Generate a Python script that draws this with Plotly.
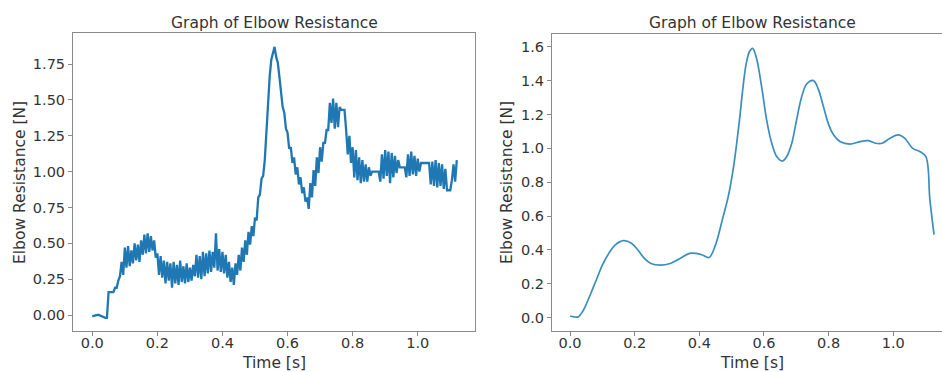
import numpy as np
import plotly.graph_objects as go

# Raw elbow resistance samples [N], recorded every 5 ms
SAMPLE_DT = 0.005
raw_resistance = [
    -0.01, -0.005, -0.005, 0.0, 0.0, -0.005, -0.01, -0.02, -0.02, -0.02,
    0.16, 0.16, 0.16, 0.16, 0.19, 0.19, 0.24, 0.27, 0.37, 0.28,
    0.47, 0.33, 0.48, 0.34, 0.45, 0.36, 0.50, 0.38, 0.49, 0.37,
    0.52, 0.42, 0.56, 0.43, 0.57, 0.44, 0.55, 0.45, 0.52, 0.40,
    0.43, 0.28, 0.41, 0.26, 0.38, 0.22, 0.37, 0.24, 0.36, 0.19,
    0.37, 0.22, 0.35, 0.21, 0.38, 0.23, 0.34, 0.22, 0.36, 0.23,
    0.33, 0.24, 0.35, 0.27, 0.42, 0.26, 0.41, 0.25, 0.44, 0.27,
    0.43, 0.29, 0.45, 0.30, 0.44, 0.33, 0.57, 0.31, 0.46, 0.30,
    0.44, 0.29, 0.42, 0.26, 0.37, 0.23, 0.33, 0.21, 0.36, 0.28,
    0.42, 0.31, 0.47, 0.37, 0.52, 0.42, 0.58, 0.49, 0.62, 0.55,
    0.68, 0.66, 0.82, 0.84, 0.95, 0.97, 1.08, 1.30, 1.52, 1.66,
    1.78, 1.82, 1.87, 1.80, 1.76, 1.66, 1.57, 1.45, 1.41, 1.30,
    1.27, 1.16, 1.17, 1.06, 1.10, 0.98, 1.03, 0.91, 0.96, 0.85,
    0.89, 0.79, 0.82, 0.74, 0.92, 0.82, 1.01, 0.90, 1.10, 0.99,
    1.17, 1.07, 1.20, 1.20, 1.29, 1.29, 1.48, 1.34, 1.51, 1.30,
    1.48, 1.31, 1.45, 1.43, 1.43, 1.43, 1.29, 1.12, 1.25, 1.06,
    1.17, 0.96, 1.15, 0.94, 1.10, 0.92, 1.08, 0.93, 1.05, 0.93,
    1.03, 0.97, 1.00, 1.00, 1.00, 1.00, 1.00, 0.93, 1.12, 0.95,
    1.15, 0.97, 1.14, 0.92, 1.13, 0.96, 1.11, 0.99, 1.08, 1.03,
    1.03, 1.03, 1.03, 0.96, 1.12, 0.97, 1.14, 0.98, 1.11, 0.97,
    1.09, 1.00, 1.06, 1.06, 1.06, 1.06, 1.06, 1.06, 0.91, 1.07,
    0.90, 1.08, 0.89, 1.06, 0.90, 1.05, 0.88, 1.02, 0.87, 0.87,
    0.87, 0.94, 1.05, 0.93, 1.08,
]
raw_time = np.arange(len(raw_resistance)) * SAMPLE_DT

# Filtered elbow resistance [N]
smooth_time = [
    0.0, 0.012, 0.025, 0.04, 0.055, 0.07, 0.085, 0.10, 0.12, 0.14,
    0.165, 0.19, 0.21, 0.23, 0.25, 0.28, 0.31, 0.34, 0.37, 0.39,
    0.41, 0.43, 0.45, 0.47, 0.49, 0.505, 0.515, 0.525, 0.535, 0.545,
    0.555, 0.565, 0.577, 0.593, 0.608, 0.624, 0.64, 0.657, 0.67, 0.686,
    0.70, 0.716, 0.732, 0.753, 0.768, 0.784, 0.80, 0.815, 0.835, 0.866,
    0.897, 0.923, 0.945, 0.965, 0.99, 1.015, 1.035, 1.06, 1.083, 1.101,
    1.113, 1.126,
]
smooth_resistance = [
    0.01, 0.005, 0.005, 0.04, 0.10, 0.17, 0.24, 0.31, 0.38, 0.43,
    0.455, 0.44, 0.40, 0.35, 0.32, 0.31, 0.32, 0.35, 0.38, 0.38,
    0.37, 0.355, 0.43, 0.57, 0.72, 0.88, 1.02, 1.18, 1.36, 1.50,
    1.57, 1.59, 1.53, 1.36, 1.17, 1.03, 0.95, 0.925, 0.95, 1.03,
    1.16, 1.30, 1.38, 1.40, 1.35, 1.245, 1.14, 1.08, 1.04, 1.025,
    1.04, 1.045, 1.03, 1.03, 1.06, 1.08, 1.06, 1.00, 0.98, 0.95,
    0.70, 0.49,
]

left_yticks = [0.0, 0.25, 0.5, 0.75, 1.0, 1.25, 1.5, 1.75]
right_yticks = [0.0, 0.2, 0.4, 0.6, 0.8, 1.0, 1.2, 1.4, 1.6]
xticks = [0.0, 0.2, 0.4, 0.6, 0.8, 1.0]

TITLE = "Graph of Elbow Resistance"
XLABEL = "Time [s]"
YLABEL = "Elbow Resistance [N]"

W, H = 942, 372
FONT = "DejaVu Sans"
TEXT = "#333333"
SPINE = "#8a8a8a"

fig = go.Figure()
fig.add_trace(go.Scatter(
    x=raw_time, y=raw_resistance, mode="lines",
    line=dict(color="#1f77b4", width=2.3, shape="linear"),
    xaxis="x", yaxis="y", showlegend=False,
))
fig.add_trace(go.Scatter(
    x=smooth_time, y=smooth_resistance, mode="lines",
    line=dict(color="#3a8ebf", width=1.7, shape="spline", smoothing=1.0),
    xaxis="x2", yaxis="y2", showlegend=False,
))


def px_x(p):
    return p / W


def px_y(p):
    return 1 - p / H


axis_common = dict(
    showgrid=False, zeroline=False, showline=True, linecolor=SPINE, linewidth=1,
    ticks="outside", ticklen=4, tickcolor=SPINE, tickwidth=1,
    tickfont=dict(family=FONT, size=14.5, color=TEXT),
)

fig.update_layout(
    width=W, height=H,
    margin=dict(l=0, r=0, t=0, b=0),
    paper_bgcolor="white", plot_bgcolor="white",
    xaxis=dict(domain=[px_x(73), px_x(475)], range=[-0.0593, 1.176],
               tickvals=xticks, tickformat=".1f", mirror=True, anchor="y",
               ticklabelstandoff=-5, **axis_common),
    yaxis=dict(domain=[px_y(331), px_y(33)], range=[-0.1116, 1.9665],
               tickvals=left_yticks, tickformat=".2f", mirror=True, anchor="x",
               **axis_common),
    xaxis2=dict(domain=[px_x(552), 1.0], range=[-0.0557, 1.1506],
                tickvals=xticks, tickformat=".1f", mirror=True, anchor="y2",
                ticklabelstandoff=-5, **axis_common),
    yaxis2=dict(domain=[px_y(331), px_y(34)], range=[-0.0785, 1.675],
                tickvals=right_yticks, tickformat=".1f", mirror=False, anchor="x2",
                **axis_common),
)

label_font = dict(family=FONT, size=15.5, color=TEXT)
for cx, ylab_x in [(274, 20), (752, 507)]:
    fig.add_annotation(text=TITLE, x=px_x(cx), y=px_y(23), xref="paper", yref="paper",
                       showarrow=False, font=label_font, xanchor="center", yanchor="middle")
    fig.add_annotation(text=XLABEL, x=px_x(cx), y=px_y(363), xref="paper", yref="paper",
                       showarrow=False, font=label_font, xanchor="center", yanchor="middle")
    fig.add_annotation(text=YLABEL, x=px_x(ylab_x), y=px_y(183), xref="paper", yref="paper",
                       showarrow=False, font=label_font, textangle=-90,
                       xanchor="center", yanchor="middle")

fig.write_html("out.html")
